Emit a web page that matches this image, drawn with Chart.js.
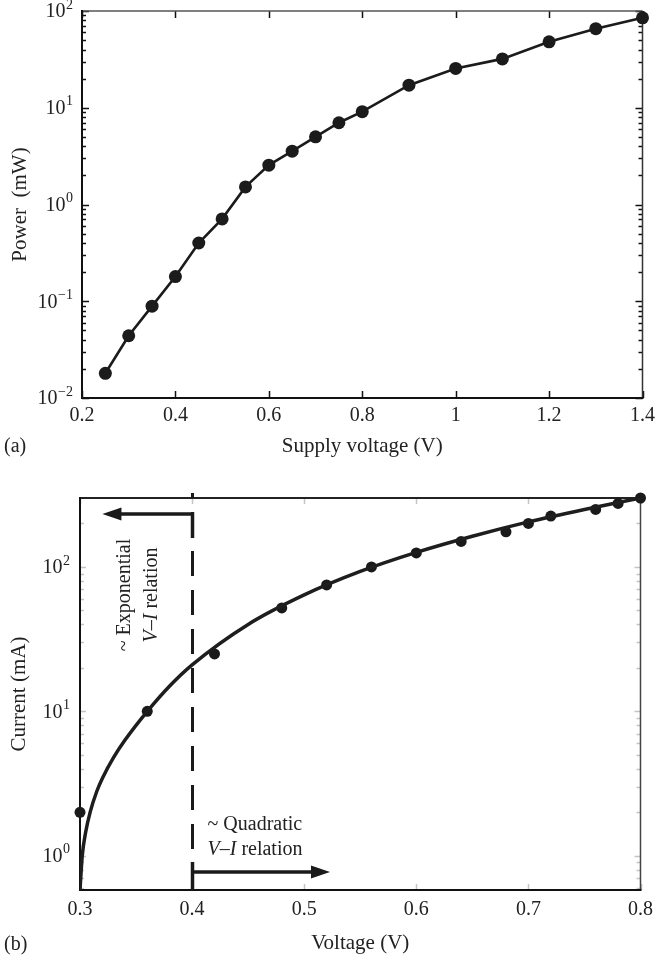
<!DOCTYPE html>
<html><head><meta charset="utf-8">
<script src="https://cdn.jsdelivr.net/npm/chart.js@4.4.1/dist/chart.umd.min.js"></script>
<style>
html,body{margin:0;padding:0;background:#fff;}
#wrap{position:relative;width:661px;height:960px;overflow:hidden;}
#ca{position:absolute;left:0;top:0;}
#cb{position:absolute;left:0;top:470px;}
</style></head><body>
<div id="wrap">
<canvas id="ca" width="661" height="470"></canvas>
<canvas id="cb" width="661" height="490"></canvas>
</div>
<script>
// ---------- Panel (a) data ----------
const supplyVoltage = [0.25, 0.30, 0.35, 0.40, 0.45, 0.50, 0.55, 0.60, 0.65, 0.70, 0.75, 0.80, 0.90, 1.00, 1.10, 1.20, 1.30, 1.40];
const powerMW = [0.018, 0.044, 0.089, 0.18, 0.40, 0.71, 1.52, 2.55, 3.56, 5.0, 7.0, 9.1, 17.1, 25.5, 32, 48, 65.6, 85];
const xTicksA = [0.2, 0.4, 0.6, 0.8, 1.0, 1.2, 1.4];
const xTickLabelsA = ['0.2', '0.4', '0.6', '0.8', '1', '1.2', '1.4'];
const yTicksA = [0.01, 0.1, 1, 10, 100];
const yTickExpA = ['\u22122', '\u22121', '0', '1', '2'];

// ---------- Panel (b) data ----------
const measVoltage = [0.30, 0.36, 0.42, 0.48, 0.52, 0.56, 0.60, 0.64, 0.68, 0.70, 0.72, 0.76, 0.78, 0.80];
const measCurrent = [2.0, 10, 25, 52, 75, 100, 125, 150, 175, 200, 225, 250, 275, 300];
const fitVoltage = [0.300, 0.302, 0.305, 0.309, 0.315, 0.32, 0.33, 0.34, 0.36, 0.38, 0.40, 0.45, 0.50, 0.55, 0.60, 0.65, 0.70, 0.75, 0.80];
const fitCurrent = [0.58, 1.0, 1.45, 2.0, 2.8, 3.45, 4.8, 6.3, 10, 15, 21, 40, 64, 93, 126, 163, 205, 250, 300];
const xTicksB = [0.3, 0.4, 0.5, 0.6, 0.7, 0.8];
const xTickLabelsB = ['0.3', '0.4', '0.5', '0.6', '0.7', '0.8'];
const yTicksB = [1, 10, 100];
const yTickExpB = ['0', '1', '2'];
const boundaryVoltage = 0.4;
const expArrowEnd = 0.32;
const quadArrowEnd = 0.523;

// ---------- common ----------
const FONT = "'Liberation Serif', 'Times New Roman', serif";
Chart.defaults.font.family = FONT;
Chart.defaults.color = '#222';

function minorValues(min, max) {
  const out = [];
  for (let d = Math.floor(Math.log10(min)); d <= Math.ceil(Math.log10(max)); d++) {
    for (let k = 2; k <= 9; k++) {
      const v = k * Math.pow(10, d);
      if (v > min && v < max) out.push(v);
    }
  }
  return out;
}

function framePlugin(cfg) {
  return {
    id: 'frame' + cfg.name,
    beforeDatasetsDraw(chart) {
      const ctx = chart.ctx, a = chart.chartArea, xs = chart.scales.x, ys = chart.scales.y;
      ctx.save();
      ctx.strokeStyle = cfg.tickColor; ctx.lineWidth = cfg.tickWidth;
      ctx.beginPath();
      xs.ticks.forEach(t => {
        const px = Math.round(xs.getPixelForValue(t.value)) + 0.5;
        ctx.moveTo(px, a.bottom); ctx.lineTo(px, a.bottom - cfg.major);
        ctx.moveTo(px, a.top); ctx.lineTo(px, a.top + cfg.major);
      });
      ys.ticks.forEach(t => {
        const py = Math.round(ys.getPixelForValue(t.value)) + 0.5;
        ctx.moveTo(a.left, py); ctx.lineTo(a.left + cfg.major, py);
        ctx.moveTo(a.right, py); ctx.lineTo(a.right - cfg.major, py);
      });
      minorValues(ys.min, ys.max).forEach(v => {
        const py = Math.round(ys.getPixelForValue(v)) + 0.5;
        ctx.moveTo(a.left, py); ctx.lineTo(a.left + cfg.minor, py);
        ctx.moveTo(a.right, py); ctx.lineTo(a.right - cfg.minor, py);
      });
      ctx.stroke();
      const seg = (x1, y1, x2, y2, c, w) => { ctx.strokeStyle = c; ctx.lineWidth = w; ctx.beginPath(); ctx.moveTo(x1, y1); ctx.lineTo(x2, y2); ctx.stroke(); };
      seg(a.left, a.top, a.right, a.top, cfg.topColor, cfg.topW);
      seg(a.right, a.top, a.right, a.bottom, cfg.rightColor, cfg.rightW);
      seg(a.left - 1, a.bottom, a.right + 1, a.bottom, '#111', 2);
      seg(a.left, a.top - 1, a.left, a.bottom + 1, '#111', 2);
      ctx.restore();
    },
    afterDraw(chart) {
      const ctx = chart.ctx, a = chart.chartArea, ys = chart.scales.y;
      ctx.save();
      ctx.fillStyle = '#222';
      ctx.textBaseline = 'middle';
      // y tick labels: 10 with superscript exponent, placed on the library's log scale
      ys.ticks.forEach((t, i) => {
        const py = ys.getPixelForValue(t.value);
        const exp = cfg.exps[i];
        ctx.font = '14px ' + FONT;
        const ew = ctx.measureText(exp).width;
        const right = a.left - cfg.labelGap;
        ctx.textAlign = 'right';
        ctx.fillText(exp, right, py - 6);
        ctx.font = '20px ' + FONT;
        ctx.fillText('10', right - ew - 0.5, py + 1);
      });
      ctx.font = '20px ' + FONT;
      ctx.textAlign = 'left';
      ctx.fillText(cfg.panel, 4, cfg.panelY);
      ctx.restore();
    }
  };
}

function drawMixed(ctx, parts, x, y, align) {
  let total = 0;
  parts.forEach(p => { ctx.font = (p[1] ? 'italic ' : '') + '20px ' + FONT; p.w = ctx.measureText(p[0]).width; total += p.w; });
  let cx = align === 'center' ? x - total / 2 : x;
  ctx.textAlign = 'left';
  parts.forEach(p => { ctx.font = (p[1] ? 'italic ' : '') + '20px ' + FONT; ctx.fillText(p[0], cx, y); cx += p.w; });
}

const annotPlugin = {
  id: 'annotB',
  afterDatasetsDraw(chart) {
    const ctx = chart.ctx, a = chart.chartArea, xs = chart.scales.x;
    const bx = Math.round(xs.getPixelForValue(boundaryVoltage)) + 0.5;
    ctx.save();
    ctx.strokeStyle = '#1a1a1a'; ctx.fillStyle = '#1a1a1a';
    ctx.lineWidth = 3;
    ctx.setLineDash([25, 14]);
    ctx.lineDashOffset = 20;
    ctx.beginPath(); ctx.moveTo(bx, a.top - 5); ctx.lineTo(bx, a.bottom); ctx.stroke();
    ctx.setLineDash([]);
    const yTop = a.top + 16;
    const x1 = xs.getPixelForValue(expArrowEnd);
    ctx.lineWidth = 3.5;
    ctx.beginPath(); ctx.moveTo(bx, yTop + 24); ctx.lineTo(bx, yTop); ctx.lineTo(x1 + 16, yTop); ctx.stroke();
    ctx.beginPath(); ctx.moveTo(x1, yTop); ctx.lineTo(x1 + 19, yTop - 6.5); ctx.lineTo(x1 + 19, yTop + 6.5); ctx.closePath(); ctx.fill();
    const yBot = a.bottom - 18;
    const x2 = xs.getPixelForValue(quadArrowEnd);
    ctx.beginPath(); ctx.moveTo(bx, yBot - 10); ctx.lineTo(bx, a.bottom); ctx.stroke();
    ctx.beginPath(); ctx.moveTo(bx, yBot); ctx.lineTo(x2 - 16, yBot); ctx.stroke();
    ctx.beginPath(); ctx.moveTo(x2, yBot); ctx.lineTo(x2 - 19, yBot - 6.5); ctx.lineTo(x2 - 19, yBot + 6.5); ctx.closePath(); ctx.fill();
    ctx.fillStyle = '#222';
    ctx.textBaseline = 'middle';
    drawMixed(ctx, [['~ Quadratic', false]], bx + 15, yBot - 47, 'left');
    drawMixed(ctx, [['V\u2013I', true], [' relation', false]], bx + 15, yBot - 22, 'left');
    ctx.save();
    ctx.translate(a.left + 45, a.top + 97);
    ctx.rotate(-Math.PI / 2);
    drawMixed(ctx, [['~ Exponential', false]], 0, 0, 'center');
    drawMixed(ctx, [['V\u2013I', true], [' relation', false]], 0, 27, 'center');
    ctx.restore();
    ctx.restore();
  }
};

function idxLabel(labels) { return (v, i) => labels[i]; }

// ---------- Chart (a) ----------
new Chart(document.getElementById('ca'), {
  type: 'line',
  data: {
    datasets: [{
      data: supplyVoltage.map((v, i) => ({ x: v, y: powerMW[i] })),
      borderColor: '#1b1b1b', borderWidth: 2.6,
      pointRadius: 6.5, pointBackgroundColor: '#1b1b1b', pointBorderWidth: 0,
      tension: 0, clip: false
    }]
  },
  options: {
    responsive: false, animation: false, events: [],
    layout: { padding: { top: 11, right: 15, left: 0, bottom: 0 } },
    plugins: { legend: { display: false }, tooltip: { enabled: false } },
    scales: {
      x: {
        type: 'linear', min: 0.2, max: 1.4,
        afterBuildTicks: s => { s.ticks = xTicksA.map(v => ({ value: v })); },
        afterFit: s => { s.height = 72; },
        ticks: { callback: idxLabel(xTickLabelsA), font: { size: 20 }, color: '#222', padding: 6, maxRotation: 0, autoSkip: false },
        grid: { display: false, drawTicks: false }, border: { display: false },
        title: { display: true, text: 'Supply voltage (V)', font: { size: 21 }, color: '#222', padding: { top: 0, bottom: 11 } }
      },
      y: {
        type: 'logarithmic', min: 0.01, max: 100,
        afterBuildTicks: s => { s.ticks = yTicksA.map(v => ({ value: v })); },
        afterFit: s => { s.width = 82; },
        ticks: { display: false },
        grid: { display: false, drawTicks: false }, border: { display: false },
        title: { display: true, text: 'Power  (mW)', font: { size: 21 }, color: '#222', padding: { top: 8, bottom: 0 } }
      }
    }
  },
  plugins: [framePlugin({ name: 'A', tickColor: '#111', tickWidth: 1.5, major: 7, minor: 4, topColor: '#555', topW: 1.5, rightColor: '#333', rightW: 1.5, panel: '(a)', panelY: 447, exps: yTickExpA, labelGap: 9 })]
});

// ---------- Chart (b) ----------
new Chart(document.getElementById('cb'), {
  type: 'scatter',
  data: {
    datasets: [{
      type: 'line',
      data: fitVoltage.map((v, i) => ({ x: v, y: fitCurrent[i] })),
      borderColor: '#1e1e1e', borderWidth: 3.5, pointRadius: 0,
      cubicInterpolationMode: 'monotone', clip: 0
    }, {
      data: measVoltage.map((v, i) => ({ x: v, y: measCurrent[i] })),
      pointRadius: 5.5, pointBackgroundColor: '#1a1a1a', pointBorderWidth: 0, showLine: false, clip: false
    }]
  },
  options: {
    responsive: false, animation: false, events: [],
    layout: { padding: { top: 28, right: 15, left: 0, bottom: 0 } },
    plugins: { legend: { display: false }, tooltip: { enabled: false } },
    scales: {
      x: {
        type: 'linear', min: 0.3, max: 0.8,
        afterBuildTicks: s => { s.ticks = xTicksB.map(v => ({ value: v })); },
        afterFit: s => { s.height = 70; },
        ticks: { callback: idxLabel(xTickLabelsB), font: { size: 20 }, color: '#222', padding: 8, maxRotation: 0, autoSkip: false },
        grid: { display: false, drawTicks: false }, border: { display: false },
        title: { display: true, text: 'Voltage (V)', font: { size: 21 }, color: '#222', padding: { top: 0, bottom: 4 } }
      },
      y: {
        type: 'logarithmic', min: 0.58, max: 300,
        afterBuildTicks: s => { s.ticks = yTicksB.map(v => ({ value: v })); },
        afterFit: s => { s.width = 80; },
        ticks: { display: false },
        grid: { display: false, drawTicks: false }, border: { display: false },
        title: { display: true, text: 'Current (mA)', font: { size: 21 }, color: '#222', padding: { top: 7, bottom: 0 } }
      }
    }
  },
  plugins: [framePlugin({ name: 'B', tickColor: '#c4c4c4', tickWidth: 1.5, major: 6, minor: 4, topColor: '#222', topW: 2, rightColor: '#444', rightW: 1.5, panel: '(b)', panelY: 475, exps: yTickExpB, labelGap: 10 }), annotPlugin]
});
</script>
</body></html>
